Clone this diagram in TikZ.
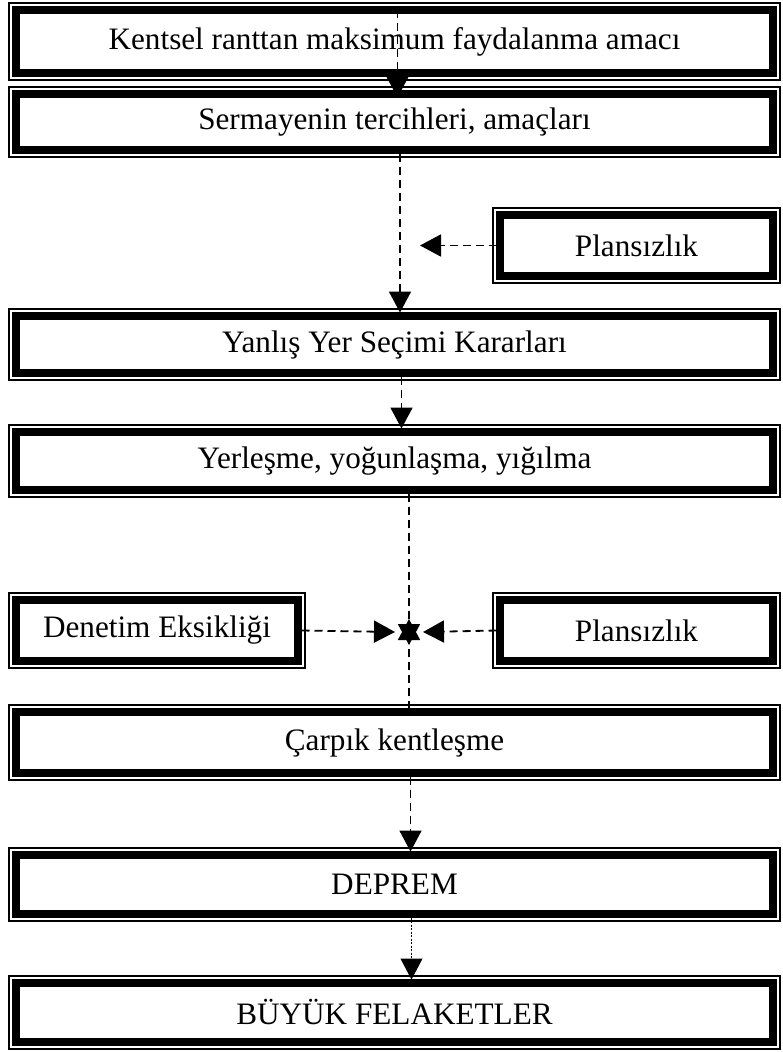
\documentclass[tikz,border=0pt]{standalone}
\usepackage{fontspec}
\setmainfont{Liberation Serif}
\usetikzlibrary{arrows.meta}
\begin{document}
\begin{tikzpicture}[x=1pt,y=-1pt,
  frame/.style={draw, line width=7.5pt, inner sep=0pt, outer sep=0pt,
    font=\fontsize{31.2}{35}\selectfont, anchor=center},
  flow/.style={line width=1.8pt, dash pattern=on 8pt off 5pt,
    -{Triangle[width=22pt,length=21pt]}},
  fineflow/.style={line width=1pt, dash pattern=on 2pt off 1.5pt,
    -{Triangle[width=22pt,length=21pt]}}]
\useasboundingbox (0,0) rectangle (782,1052);
% boxes, placed by the centre line of their thick border
\node[frame, minimum width=757pt, minimum height=63pt] (b1) at (394.5,41.5) {Kentsel ranttan maksimum faydalanma amacı};
\node[frame, minimum width=757pt, minimum height=56pt] (b2) at (394.5,122) {Sermayenin tercihleri, amaçları};
\node[frame, minimum width=273pt, minimum height=61pt] (p1) at (636.5,245.5) {Plansızlık};
\node[frame, minimum width=757pt, minimum height=57pt] (b3) at (394.5,344.5) {Yanlış Yer Seçimi Kararları};
\node[frame, minimum width=757pt, minimum height=58pt] (b4) at (394.5,461) {Yerleşme, yoğunlaşma, yığılma};
\node[frame, minimum width=282pt, minimum height=61pt] (d) at (157,630.5) {Denetim Eksikliği};
\node[frame, minimum width=273pt, minimum height=61pt] (p2) at (636.5,630.5) {Plansızlık};
\node[frame, minimum width=757pt, minimum height=61pt] (b5) at (394.5,742.5) {Çarpık kentleşme};
\node[frame, minimum width=757pt, minimum height=59pt] (b6) at (394.5,884.5) {DEPREM};
\node[frame, minimum width=757pt, minimum height=59pt] (b7) at (394.5,1012.5) {BÜYÜK FELAKETLER};
% thin outer line around every box
\foreach \n in {b1,b2,p1,b3,b4,d,p2,b5,b6,b7}
  \draw[line width=1.5pt] ([shift={(-7pt,7pt)}]\n.north west) rectangle ([shift={(7pt,-7pt)}]\n.south east);
% connectors
\coordinate (m1) at (400,245.5);
\coordinate (j) at (409,632);
\draw[flow] ([xshift=3pt]b1.north) -- ([xshift=3pt,yshift=-3.5pt]b2.north);
\draw[flow] ([xshift=5.5pt,yshift=-3.5pt]b2.south) -- ([xshift=5.5pt,yshift=3.5pt]b3.north);
\draw[flow] ([xshift=-3.5pt]p1.west) -- ([xshift=20pt]m1);
\draw[flow] ([xshift=7pt,yshift=-3.5pt]b3.south) -- ([xshift=7pt,yshift=3.5pt]b4.north);
\draw[flow] ([xshift=14.5pt,yshift=-3.5pt]b4.south) -- ([yshift=-13pt]j);
\draw[flow] ([xshift=3.5pt]d.east) -- ([xshift=-14pt]j);
\draw[flow] ([xshift=-3.5pt]p2.west) -- ([xshift=14pt]j);
\draw[flow] ([xshift=14.5pt,yshift=3.5pt]b5.north) -- ([yshift=13pt]j);
\draw[flow] ([xshift=16pt,yshift=-3.5pt]b5.south) -- ([xshift=16pt,yshift=3.5pt]b6.north);
\draw[fineflow] ([xshift=17pt,yshift=-3.5pt]b6.south) -- ([xshift=17pt,yshift=3.5pt]b7.north);
\end{tikzpicture}
\end{document}
